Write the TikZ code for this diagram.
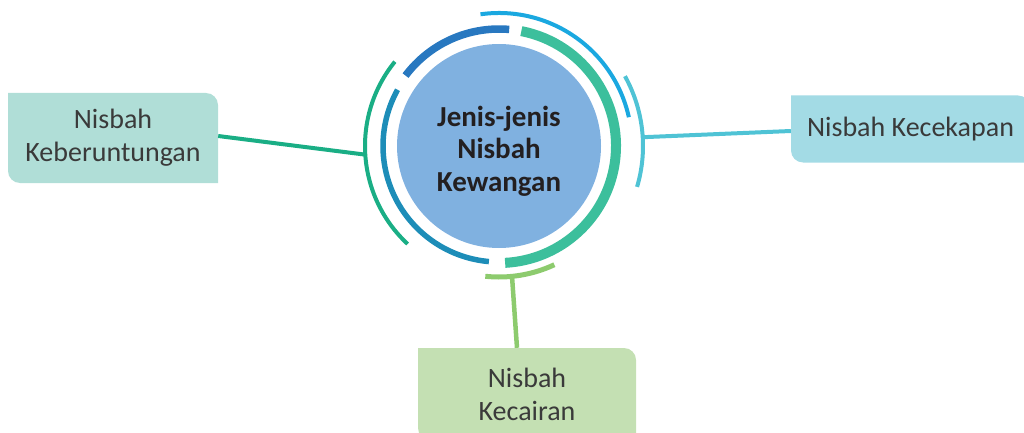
\documentclass[tikz,border=0pt]{standalone}
\usepackage{fontspec}
\setmainfont{Carlito}
\usepackage{tikz}
\usetikzlibrary{positioning}
\definecolor{hubblue}{HTML}{80B1E0}
\definecolor{hubtext}{HTML}{231F20}
\definecolor{labeltext}{HTML}{3A3A3A}
\definecolor{ringdark}{HTML}{2878C0}
\definecolor{ringteal}{HTML}{3CBF9C}
\definecolor{ringsea}{HTML}{1D8DB8}
\definecolor{ringgreen}{HTML}{1AAE85}
\definecolor{ringsky}{HTML}{1AA8E0}
\definecolor{ringcyan}{HTML}{4FC3D5}
\definecolor{ringlime}{HTML}{8DCB6E}
\definecolor{leafteal}{HTML}{B0DED7}
\definecolor{leafcyan}{HTML}{A3DBE5}
\definecolor{leafgreen}{HTML}{C4E0B3}
\tikzstyle{hub} = [circle, fill=hubblue, minimum size=204pt, inner sep=0pt]
\tikzstyle{hubfont} = [align=center, text=hubtext, font=\bfseries\fontsize{29}{32.5}\selectfont]
\tikzstyle{line} = [draw, line width=4pt]
\tikzstyle{ring} = [draw, line cap=butt]
\tikzset{leaf/.style={fill=white, inner sep=0pt, align=center, text=labeltext, font=\fontsize{28}{33}\selectfont,
  path picture={\fill[#1] (path picture bounding box.north west) -- ([xshift=-12pt]path picture bounding box.north east)
    arc[start angle=90, end angle=0, radius=12pt] -- (path picture bounding box.south east)
    -- ([xshift=12pt]path picture bounding box.south west) arc[start angle=270, end angle=180, radius=12pt] -- cycle;}}}

\begin{document}
\begin{tikzpicture}[x=1pt, y=-1pt]
				\useasboundingbox (0,0) rectangle (1024,433);

				\node [hub, label={[hubfont, yshift=-5pt]center:Jenis-jenis\\Nisbah\\Kewangan}] (hub) at (499,146) {};
				\node [leaf=leafteal, minimum width=210pt, minimum height=90pt] (keb) at (113,138) {Nisbah\\Keberuntungan};
				\node [leaf=leafcyan, minimum width=239pt, minimum height=67pt] (kec) at (910.5,129) {Nisbah Kecekapan};
				\node [leaf=leafgreen, minimum width=218pt, minimum height=92pt] (kcr) at (527,394) {Nisbah\\Kecairan};

				% inner ring
				\path [ring, ringdark, line width=7.5pt] ([shift={(143:117pt)}]hub.center) arc[start angle=143, end angle=85, radius=117pt];
				\path [ring, ringteal, line width=10pt] ([shift={(79:117pt)}]hub.center) arc[start angle=79, end angle=-87, radius=117pt];
				\path [ring, ringsea, line width=5.5pt] ([shift={(151:116pt)}]hub.center) arc[start angle=151, end angle=265, radius=116pt];
				% outer ring
				\path [ring, ringgreen, line width=4pt] ([shift={(141:134pt)}]hub.center) arc[start angle=141, end angle=227, radius=134pt];
				\path [ring, ringsky, line width=4pt] ([shift={(98:133pt)}]hub.center) arc[start angle=98, end angle=12.5, radius=133pt];
				\path [ring, ringcyan, line width=4pt] ([shift={(29:144pt)}]hub.center) arc[start angle=29, end angle=-16.5, radius=144pt];
				\path [ring, ringlime, line width=5pt] ([shift={(264:131pt)}]hub.center) arc[start angle=264, end angle=295, radius=131pt];

				\coordinate (lend) at ([shift={(183.7:134pt)}]hub.center);
				\coordinate (rend) at ([shift={(3.5:144pt)}]hub.center);
				\coordinate (bend) at ([shift={(275.7:131pt)}]hub.center);

				\path [line, ringgreen] ([yshift=2pt]keb.east) -- (lend);
				\path [line, ringcyan] (rend) -- ([yshift=-2pt]kec.west);
				\path [line, ringlime, line width=4.5pt] (bend) -- ([xshift=-10pt]kcr.north);
			\end{tikzpicture}
\end{document}
